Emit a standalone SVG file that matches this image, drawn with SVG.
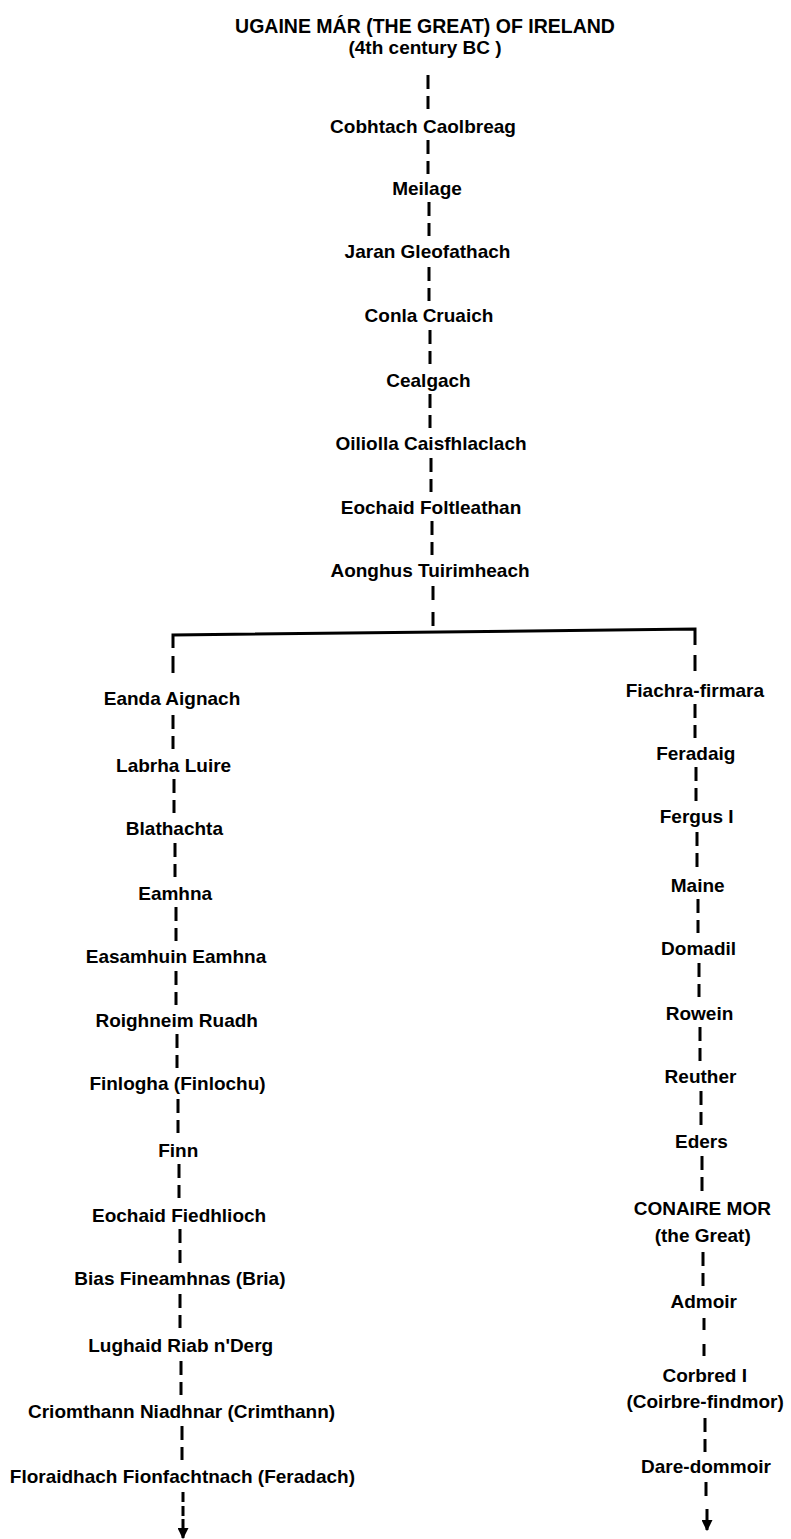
<svg xmlns="http://www.w3.org/2000/svg" width="791" height="1539" viewBox="0 0 791 1539">
<style>
  text { font-family: "Liberation Sans", Arial, sans-serif; font-weight: bold; font-size: 19px; fill: #000; text-anchor: middle; }
  .title { font-size: 19.5px; }
  .d { stroke: #000; stroke-width: 3; fill: none; stroke-dasharray: 14 7; }
  .s { stroke: #000; stroke-width: 3; fill: none; }
</style>
<defs>
  <marker id="ah" viewBox="0 0 10 10" refX="9" refY="5" markerWidth="11" markerHeight="11" markerUnits="userSpaceOnUse" orient="auto">
    <path d="M0,0 L10,5 L0,10 z" fill="#000"/>
  </marker>
</defs>
<rect width="791" height="1539" fill="#fff"/>

<g id="connectors">
  <!-- main trunk -->
  <line class="d" x1="428" y1="75" x2="428" y2="109"/>
  <line class="d" x1="428" y1="140" x2="428" y2="174"/>
  <line class="d" x1="429" y1="202" x2="429" y2="236"/>
  <line class="d" x1="429" y1="267" x2="429" y2="301"/>
  <line class="d" x1="430" y1="330" x2="430" y2="364"/>
  <line class="d" x1="430" y1="394" x2="430" y2="428"/>
  <line class="d" x1="431" y1="458" x2="431" y2="492"/>
  <line class="d" x1="432" y1="521" x2="432" y2="555"/>
  <line class="d" x1="433" y1="586" x2="433" y2="632" style="stroke-dasharray:14 12"/>
  <!-- crossbar -->
  <path class="s" d="M173,648 L173,635 L695,629 L695,645"/>
  <!-- left line -->
  <line class="d" x1="173" y1="656" x2="173" y2="682" style="stroke-dasharray:17 9"/>
  <line class="d" x1="173" y1="715" x2="173" y2="749"/>
  <line class="d" x1="174" y1="779" x2="174" y2="813"/>
  <line class="d" x1="175" y1="843" x2="175" y2="877"/>
  <line class="d" x1="176" y1="907" x2="176" y2="941"/>
  <line class="d" x1="176" y1="971" x2="176" y2="1005"/>
  <line class="d" x1="177" y1="1034" x2="177" y2="1068"/>
  <line class="d" x1="178" y1="1099" x2="178" y2="1133"/>
  <line class="d" x1="179" y1="1164" x2="179" y2="1198"/>
  <line class="d" x1="180" y1="1229" x2="180" y2="1263"/>
  <line class="d" x1="180" y1="1294" x2="180" y2="1328"/>
  <line class="d" x1="181" y1="1361" x2="181" y2="1395"/>
  <line class="d" x1="182" y1="1426" x2="182" y2="1460"/>
  <line class="d" x1="183" y1="1492" x2="183" y2="1516" style="stroke-dasharray:10 4"/>
  <line class="s" x1="183" y1="1519" x2="183" y2="1538" marker-end="url(#ah)"/>
  <!-- right line -->
  <line class="d" x1="695" y1="655" x2="695" y2="675" style="stroke-dasharray:16 9"/>
  <line class="d" x1="695" y1="704" x2="695" y2="738"/>
  <line class="d" x1="696" y1="767" x2="696" y2="801"/>
  <line class="d" x1="697" y1="832" x2="697" y2="868"/>
  <line class="d" x1="698" y1="899" x2="698" y2="933"/>
  <line class="d" x1="699" y1="963" x2="699" y2="997"/>
  <line class="d" x1="700" y1="1027" x2="700" y2="1061"/>
  <line class="d" x1="701" y1="1091" x2="701" y2="1125"/>
  <line class="d" x1="702" y1="1156" x2="702" y2="1193"/>
  <line class="d" x1="703" y1="1252" x2="703" y2="1286"/>
  <line class="d" x1="704" y1="1318" x2="704" y2="1360" style="stroke-dasharray:12 14"/>
  <line class="d" x1="705" y1="1418" x2="705" y2="1452"/>
  <line class="d" x1="706" y1="1482" x2="706" y2="1497"/>
  <line class="s" x1="707" y1="1509" x2="707" y2="1530" marker-end="url(#ah)"/>
</g>

<g id="n-ugaine"><text class="title" x="425" y="33">UGAINE MÁR (THE GREAT) OF IRELAND</text><text x="425" y="54">(4th century BC )</text></g>
<g id="n-cobhtach"><text x="423" y="133">Cobhtach Caolbreag</text></g>
<g id="n-meilage"><text x="427" y="195">Meilage</text></g>
<g id="n-jaran"><text x="427.5" y="258">Jaran Gleofathach</text></g>
<g id="n-conla"><text x="429" y="322">Conla Cruaich</text></g>
<g id="n-cealgach"><text x="428.5" y="387">Cealgach</text></g>
<g id="n-oiliolla"><text x="431" y="450">Oiliolla Caisfhlaclach</text></g>
<g id="n-eochaid-f"><text x="431" y="514">Eochaid Foltleathan</text></g>
<g id="n-aonghus"><text x="430" y="577">Aonghus Tuirimheach</text></g>

<g id="n-eanda"><text x="172" y="705">Eanda Aignach</text></g>
<g id="n-labrha"><text x="173.6" y="772">Labrha Luire</text></g>
<g id="n-blathachta"><text x="174.4" y="835">Blathachta</text></g>
<g id="n-eamhna"><text x="175.2" y="900">Eamhna</text></g>
<g id="n-easamhuin"><text x="176" y="963">Easamhuin Eamhna</text></g>
<g id="n-roighneim"><text x="176.7" y="1027">Roighneim Ruadh</text></g>
<g id="n-finlogha"><text x="177.5" y="1090">Finlogha (Finlochu)</text></g>
<g id="n-finn"><text x="178.3" y="1157">Finn</text></g>
<g id="n-eochaid-fi"><text x="179.1" y="1222">Eochaid Fiedhlioch</text></g>
<g id="n-bias"><text x="179.9" y="1285">Bias Fineamhnas (Bria)</text></g>
<g id="n-lughaid"><text x="180.7" y="1352">Lughaid Riab n'Derg</text></g>
<g id="n-criomthann"><text x="181.6" y="1418">Criomthann Niadhnar (Crimthann)</text></g>
<g id="n-floraidhach"><text x="182.4" y="1483">Floraidhach Fionfachtnach (Feradach)</text></g>

<g id="n-fiachra"><text x="694.9" y="697">Fiachra-firmara</text></g>
<g id="n-feradaig"><text x="695.8" y="760">Feradaig</text></g>
<g id="n-fergus"><text x="696.7" y="823">Fergus I</text></g>
<g id="n-maine"><text x="697.7" y="892">Maine</text></g>
<g id="n-domadil"><text x="698.6" y="955">Domadil</text></g>
<g id="n-rowein"><text x="699.5" y="1020">Rowein</text></g>
<g id="n-reuther"><text x="700.5" y="1083">Reuther</text></g>
<g id="n-eders"><text x="701.4" y="1148">Eders</text></g>
<g id="n-conaire"><text x="702.3" y="1215">CONAIRE MOR</text><text x="702.7" y="1242">(the Great)</text></g>
<g id="n-admoir"><text x="703.7" y="1308">Admoir</text></g>
<g id="n-corbred"><text x="704.7" y="1382">Corbred I</text><text x="705.1" y="1408">(Coirbre-findmor)</text></g>
<g id="n-dare"><text x="706" y="1473">Dare-dommoir</text></g>
</svg>
